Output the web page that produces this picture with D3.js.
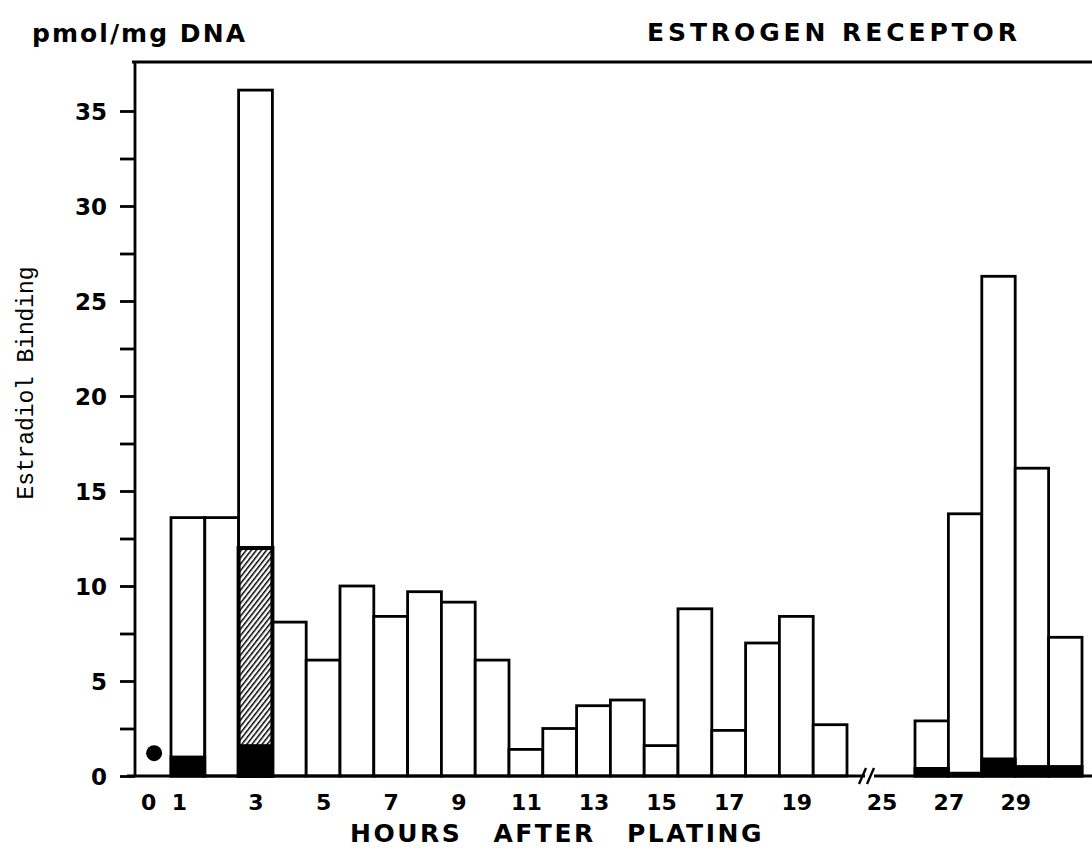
<!DOCTYPE html>
<html>
<head>
<meta charset="utf-8">
<script src="https://cdn.jsdelivr.net/npm/d3@7"></script>
<style>
  html, body { margin: 0; padding: 0; background: #fff; }
  svg { display: block; }
  text { fill: #000; }
</style>
</head>
<body>
<div id="chart"></div>
<script>
// hours after plating, one bar per hour (21-25 hidden behind the axis break)
const hoursEarly = [1, 2, 3, 4, 5, 6, 7, 8, 9, 10, 11, 12, 13, 14, 15, 16, 17, 18, 19, 20];
const hoursLate = [26, 27, 28, 29, 30];

// total estradiol binding, pmol/mg DNA
const totalEarly = [13.6, 13.6, 36.1, 8.1, 6.1, 10.0, 8.4, 9.7, 9.15, 6.1,
                    1.4, 2.5, 3.7, 4.0, 1.6, 8.8, 2.4, 7.0, 8.4, 2.7];
const totalLate = [2.9, 13.8, 26.3, 16.2, 7.3];

// hatched part of the bar (only at 3 h)
const hatchedEarly = [0, 0, 12.0, 0, 0, 0, 0, 0, 0, 0, 0, 0, 0, 0, 0, 0, 0, 0, 0, 0];
const hatchedLate = [0, 0, 0, 0, 0];

// solid black part at the foot of the bar
const solidEarly = [1.0, 0, 1.6, 0, 0, 0, 0, 0, 0, 0, 0, 0, 0, 0, 0, 0, 0, 0, 0, 0];
const solidLate = [0.4, 0.15, 0.9, 0.5, 0.5];

// value at plating time, shown as a dot
const zeroHour = 0;
const zeroValue = 1.2;

const yTicks = [0, 5, 10, 15, 20, 25, 30, 35];
const yMinorTicks = [2.5, 7.5, 12.5, 17.5, 22.5, 27.5, 32.5];
const xTicksEarly = [0, 1, 3, 5, 7, 9, 11, 13, 15, 17, 19];
const xTicksLate = [25, 27, 29];

const width = 1092;
const height = 861;
const frameTop = 62;
const axisX = 135;

const svg = d3.select("#chart")
  .append("svg")
    .attr("width", width)
    .attr("height", height);

const y = d3.scaleLinear().domain([0, 35]).range([776, 111]);
// bars span hour-0.5 .. hour+0.5 on each side of the break
const xEarly = d3.scaleLinear().domain([0.5, 20.5]).range([171, 847]);
const xLate = d3.scaleLinear().domain([25.5, 30.5]).range([915, 1082]);
// on the late side the hour labels sit at the left edge of the bars
const xLateLabel = xLate.copy().domain([26, 31]);

// hatch pattern, dense like the pen hatching of the original
const defs = svg.append("defs");
const pat = defs.append("pattern")
  .attr("id", "hatch")
  .attr("patternUnits", "userSpaceOnUse")
  .attr("width", 4)
  .attr("height", 4)
  .attr("patternTransform", "rotate(-52)");
pat.append("rect").attr("width", 4).attr("height", 4).attr("fill", "#fff");
pat.append("line")
  .attr("x1", 0).attr("y1", 0).attr("x2", 4).attr("y2", 0)
  .attr("stroke", "#000").attr("stroke-width", 3);

function makeRows(hours, total, hatched, solid, x) {
  return hours.map(function(h, i) {
    return { hour: h, total: total[i], hatched: hatched[i], solid: solid[i], x0: x(h - 0.5), x1: x(h + 0.5) };
  });
}
const rows = makeRows(hoursEarly, totalEarly, hatchedEarly, solidEarly, xEarly)
  .concat(makeRows(hoursLate, totalLate, hatchedLate, solidLate, xLate));

const bars = svg.append("g").attr("class", "bars");

bars.selectAll(".total")
  .data(rows)
  .enter().append("rect")
    .attr("class", "total")
    .attr("x", d => d.x0)
    .attr("width", d => d.x1 - d.x0)
    .attr("y", d => y(d.total))
    .attr("height", d => y(0) - y(d.total))
    .attr("fill", "#fff")
    .attr("stroke", "#000")
    .attr("stroke-width", 2.8);

bars.selectAll(".hatched")
  .data(rows.filter(d => d.hatched > 0))
  .enter().append("rect")
    .attr("class", "hatched")
    .attr("x", d => d.x0)
    .attr("width", d => d.x1 - d.x0)
    .attr("y", d => y(d.hatched))
    .attr("height", d => y(0) - y(d.hatched))
    .attr("fill", "url(#hatch)")
    .attr("stroke", "#000")
    .attr("stroke-width", 4);

bars.selectAll(".solid")
  .data(rows.filter(d => d.solid > 0))
  .enter().append("rect")
    .attr("class", "solid")
    .attr("x", d => d.x0)
    .attr("width", d => d.x1 - d.x0)
    .attr("y", d => y(d.solid))
    .attr("height", d => y(0) - y(d.solid))
    .attr("fill", "#000")
    .attr("stroke", "#000")
    .attr("stroke-width", 2.8);

svg.append("circle")
  .attr("cx", xEarly(zeroHour))
  .attr("cy", y(zeroValue))
  .attr("r", 8)
  .attr("fill", "#000");

// frame: top line, left axis, baseline with break
const frame = svg.append("g").attr("stroke", "#000").attr("fill", "none");
frame.append("line")
  .attr("x1", axisX - 3).attr("x2", width)
  .attr("y1", frameTop).attr("y2", frameTop)
  .attr("stroke-width", 3.2);
frame.append("line")
  .attr("x1", axisX).attr("x2", axisX)
  .attr("y1", frameTop).attr("y2", y(0) + 1)
  .attr("stroke-width", 2.8);
const breakX = xEarly(20.5) + 14;
frame.append("line")
  .attr("x1", axisX - 8).attr("x2", breakX + 4)
  .attr("y1", y(0)).attr("y2", y(0))
  .attr("stroke-width", 3.2);
frame.append("line")
  .attr("x1", breakX + 13).attr("x2", width)
  .attr("y1", y(0)).attr("y2", y(0))
  .attr("stroke-width", 3.2);
[0, 8].forEach(function(off) {
  frame.append("line")
    .attr("x1", breakX + off - 2).attr("y1", y(0) + 8)
    .attr("x2", breakX + off + 5).attr("y2", y(0) - 8)
    .attr("stroke-width", 2.4);
});

// y axis ticks
const yAxis = svg.append("g")
  .attr("transform", "translate(" + axisX + ",0)")
  .call(d3.axisLeft(y).tickValues(yTicks).tickSize(15).tickPadding(13));
yAxis.select(".domain").remove();
yAxis.selectAll("line").attr("stroke-width", 2.8);
yAxis.selectAll("text")
  .attr("font-family", "DejaVu Sans")
  .attr("font-weight", "bold")
  .attr("font-size", 23)
  .attr("dy", "0.36em");

const yMinor = svg.append("g")
  .attr("transform", "translate(" + axisX + ",0)")
  .call(d3.axisLeft(y).tickValues(yMinorTicks).tickSize(15).tickFormat(""));
yMinor.select(".domain").remove();
yMinor.selectAll("line").attr("stroke-width", 2.8);

// x labels, no tick marks
function styleX(g) {
  g.select(".domain").remove();
  g.selectAll("line").remove();
  g.selectAll("text")
    .attr("font-family", "DejaVu Sans")
    .attr("font-weight", "bold")
    .attr("font-size", 22)
    .attr("dy", "0.71em");
}
const xAxisEarly = svg.append("g")
  .attr("transform", "translate(0," + (y(0) + 15) + ")")
  .call(d3.axisBottom(xEarly).tickValues(xTicksEarly).tickSize(0).tickFormat(d3.format("d")))
  .call(styleX);
// "0" and "1" are squeezed together in the original
xAxisEarly.selectAll(".tick text")
  .attr("dx", d => d === 0 ? -6 : d === 1 ? -9 : 0);

svg.append("g")
  .attr("transform", "translate(0," + (y(0) + 15) + ")")
  .call(d3.axisBottom(xLateLabel).tickValues(xTicksLate).tickSize(0).tickFormat(d3.format("d")))
  .call(styleX);

// titles
svg.append("text")
  .attr("x", 32).attr("y", 42)
  .attr("font-family", "DejaVu Sans")
  .attr("font-weight", "bold")
  .attr("font-size", 25)
  .attr("textLength", 213)
  .attr("lengthAdjust", "spacing")
  .text("pmol/mg DNA");

svg.append("text")
  .attr("x", 647).attr("y", 41)
  .attr("font-family", "DejaVu Sans")
  .attr("font-weight", "bold")
  .attr("font-size", 25)
  .attr("textLength", 370)
  .attr("lengthAdjust", "spacing")
  .text("ESTROGEN RECEPTOR");

svg.append("text")
  .attr("transform", "translate(33,383) rotate(-90)")
  .attr("text-anchor", "middle")
  .attr("font-family", "Liberation Mono")
  .attr("font-size", 23)
  .attr("textLength", 233)
  .attr("lengthAdjust", "spacing")
  .text("Estradiol Binding");

svg.append("text")
  .attr("x", 350).attr("y", 842)
  .attr("font-family", "DejaVu Sans")
  .attr("font-weight", "bold")
  .attr("font-size", 25)
  .style("letter-spacing", "2.5px")
  .style("word-spacing", "20px")
  .text("HOURS AFTER PLATING");
</script>
</body>
</html>
